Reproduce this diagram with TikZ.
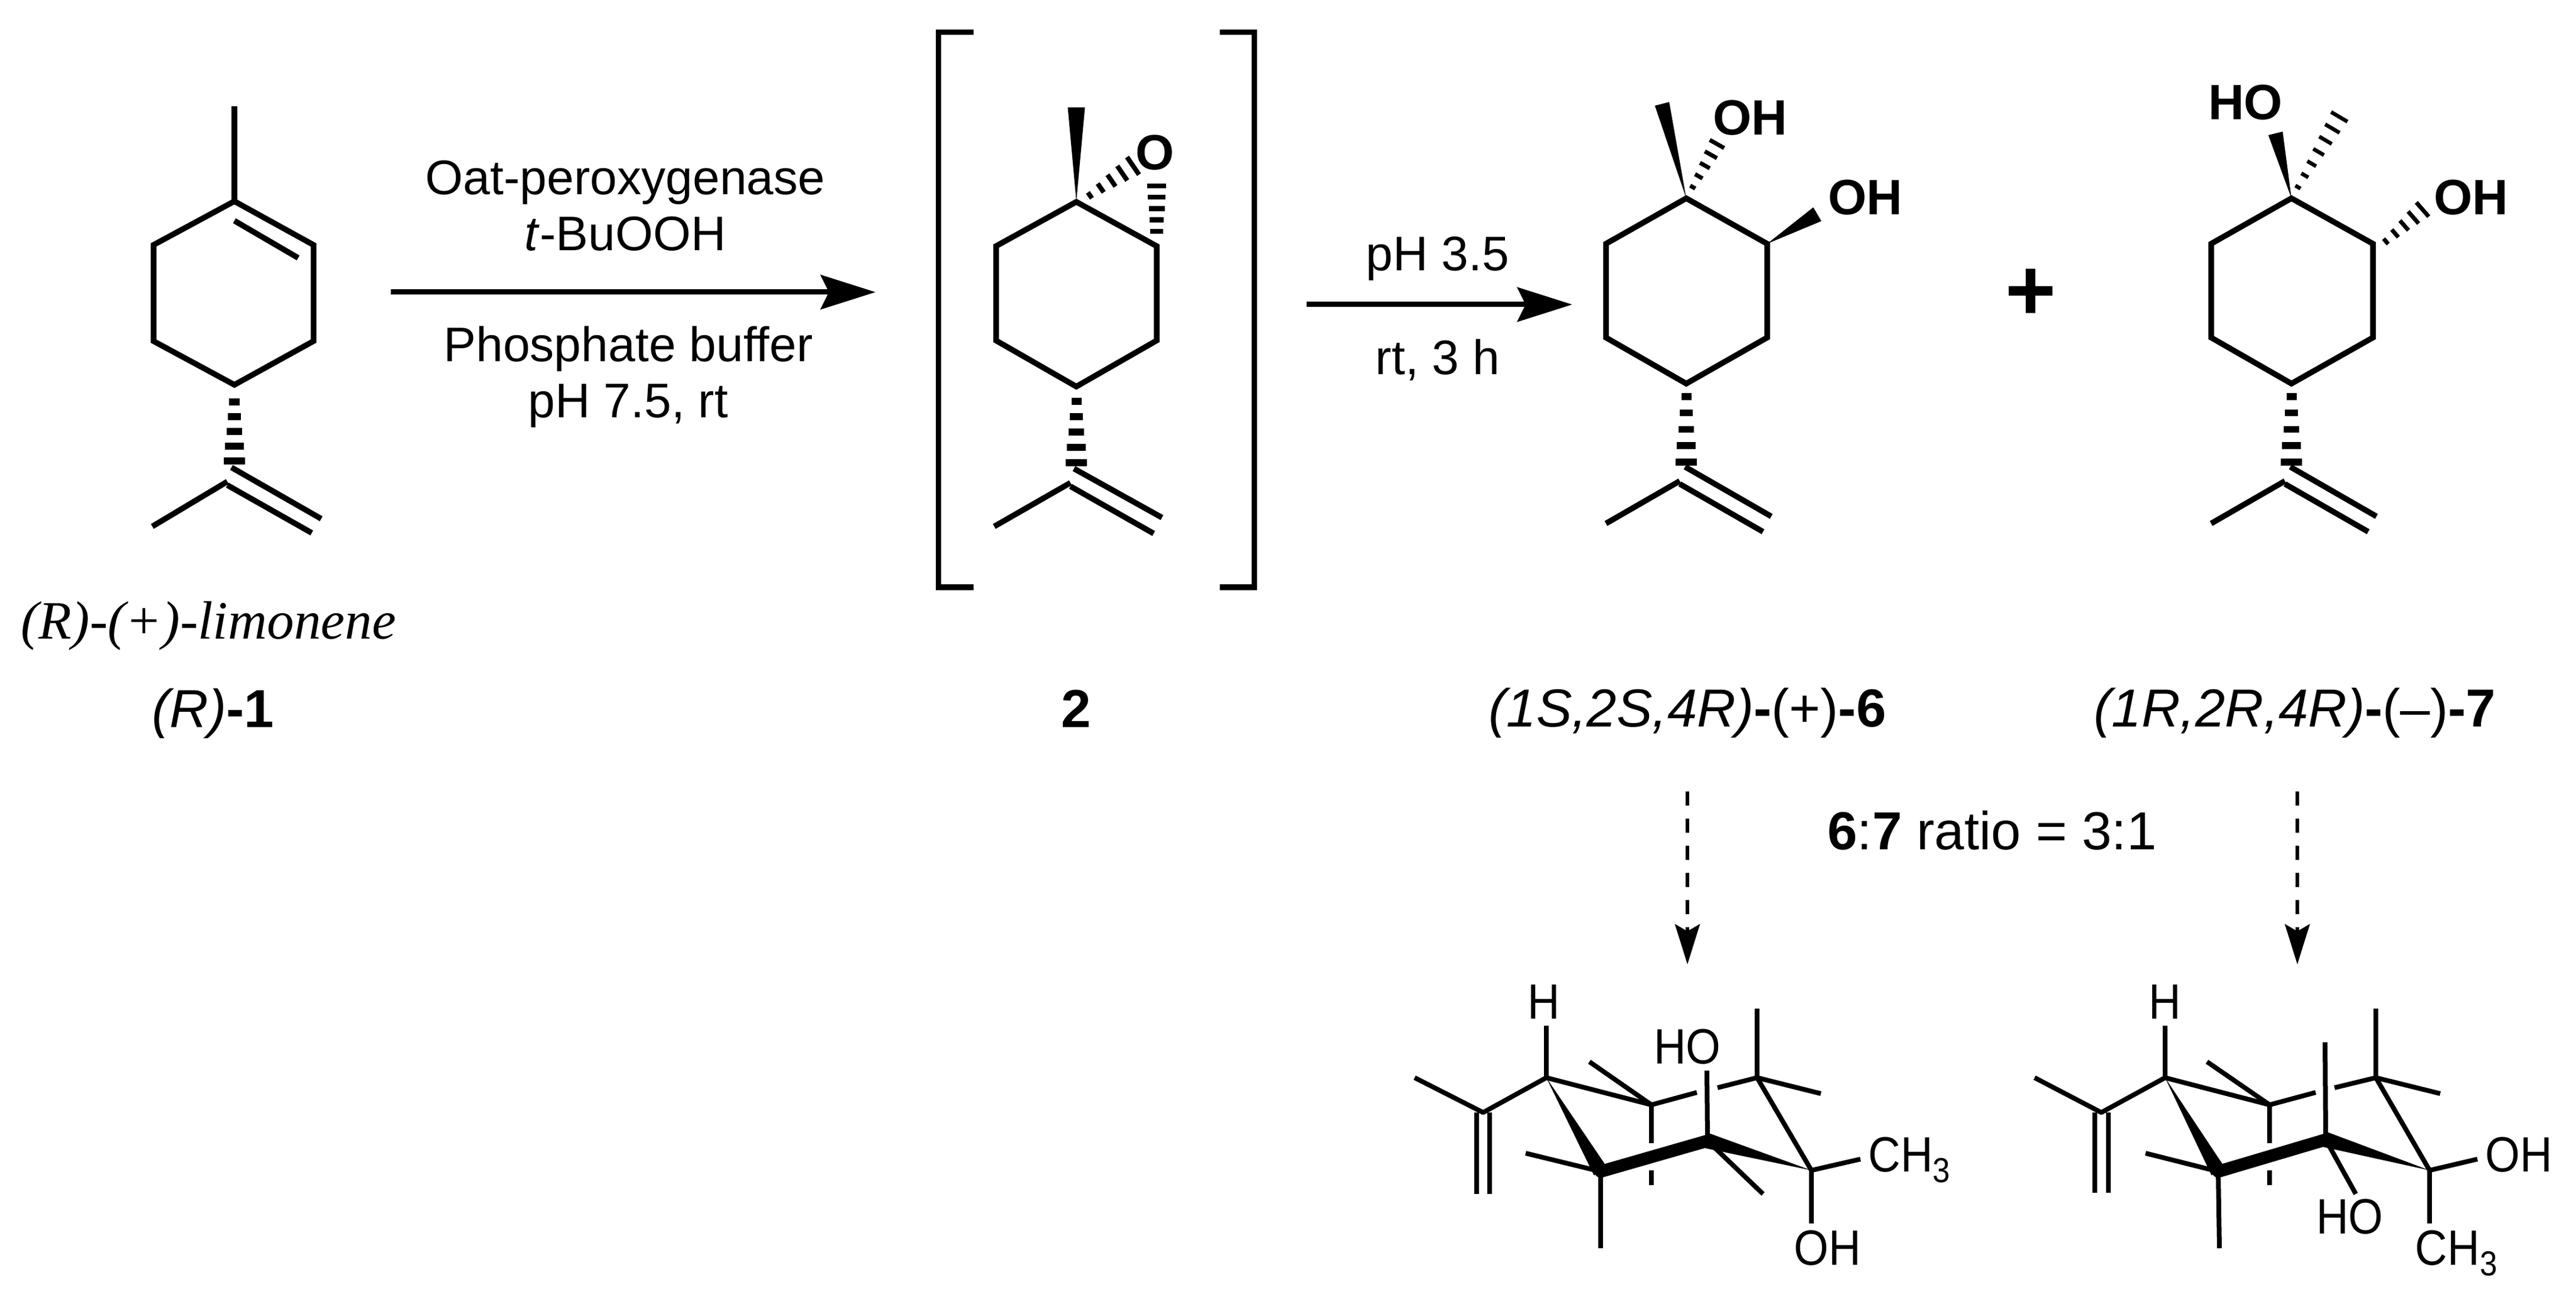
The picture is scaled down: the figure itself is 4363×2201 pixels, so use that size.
\documentclass[tikz,border=0pt]{standalone}
\usepackage{fontspec}
\usepackage{graphicx}
\setmainfont{Liberation Sans}
\newfontfamily\serifface{Liberation Serif}
\usetikzlibrary{calc,arrows.meta}
\tikzset{
  bond/.style={line width=0.095cm,line cap=butt,line join=miter},
  chairbond/.style={line width=0.08cm,line cap=butt,line join=round},
  frontbond/.style={line width=0.21cm,line cap=round},
  rxnarrow/.style={line width=0.09cm,-{Stealth[length=0.93cm,width=0.58cm,inset=0.14cm]}},
  dasharrow/.style={line width=0.06cm,dash pattern=on 0.24cm off 0.22cm,-{Stealth[length=0.68cm,width=0.42cm,inset=0.12cm]}},
  bracketline/.style={line width=0.09cm,line join=miter},
  lbl/.style={inner sep=0,anchor=base,font=\fontsize{23.4}{28}\selectfont},
  captxt/.style={inner sep=0,anchor=base,font=\fontsize{25.8}{30}\selectfont},
  atomb/.style={inner sep=0,anchor=base,font=\fontsize{23.9}{28}\selectfont\bfseries},
  chairatom/.style={inner sep=0,anchor=base,font=\fontsize{23.9}{28}\selectfont},
}
\newcommand\chl[1]{\scalebox{0.9}[1]{#1}}
\newcommand\wedgeb[3]{\fill ($(#2)!#3*0.005cm!90:(#1)$) -- (#1) -- ($(#2)!#3*0.005cm!-90:(#1)$) -- cycle;}
\newcommand\hashb[6]{%
  \foreach \kk in {1,...,#5}{%
    \pgfmathsetmacro\hT{(\kk-1)/(#5-1)}%
    \pgfmathsetmacro\hw{(#3+(#4-#3)*\hT)*0.005}%
    \coordinate (hc) at ($(#1)!\hT!(#2)$);
    \draw[line width=#6] ($(hc)+($(#1)!\hw cm!90:(#2)$)-(#1)$) -- ($(hc)+($(#1)!\hw cm!-90:(#2)$)-(#1)$);
  }}
\newcommand\stemhash[2]{\hashb{#1}{#2}{17}{36}{5}{0.115cm}}
\begin{document}
\begin{tikzpicture}[x=0.01cm,y=-0.01cm]
\useasboundingbox (0,0) rectangle (4363,2201);

% ---- molecule 1
\coordinate (aMe) at (397,180);
\coordinate (a1) at (397,341);
\coordinate (a2) at (531,415);
\coordinate (a3) at (531,578);
\coordinate (a4) at (397,652);
\coordinate (a5) at (260,578);
\coordinate (a6) at (260,415);
\coordinate (aIn1) at (397,374);
\coordinate (aIn2) at (505,437);
\coordinate (aS1) at (397,681);
\coordinate (aS2) at (397,781);
\coordinate (aC) at (385,816);
\coordinate (aM) at (258,892);
\coordinate (aD1) at (392,792);
\coordinate (aD2) at (544,879);
\coordinate (aD3) at (385,822);
\coordinate (aD4) at (528,903);
\draw[bond] (a1)--(a2)--(a3)--(a4)--(a5)--(a6)--cycle;
\draw[bond] (a1)--(aMe);
\draw[bond] (aIn1)--(aIn2);
\stemhash{aS1}{aS2}
\draw[bond] (aM)--(aC);
\draw[bond] (aD1)--(aD2);
\draw[bond] (aD3)--(aD4);
\node[inner sep=0,anchor=base,font=\fontsize{26}{30}\selectfont\serifface\itshape] (tLimo) at (353,1083) {(R)-(+)-limonene};
\node[captxt] (tR1) at (361,1232) {\textit{(R)}\textbf{-1}};

% ---- arrow 1
\coordinate (r1s) at (662,495);
\coordinate (r1e) at (1483,495);
\draw[rxnarrow] (r1s)--(r1e);
\node[lbl] (tOat) at (1059,330) {Oat-peroxygenase};
\node[lbl] (tBu) at (1059,425) {\textit{t}-BuOOH};
\node[lbl] (tPb) at (1064,613) {Phosphate buffer};
\node[lbl] (tPh) at (1064,708) {pH 7.5, rt};

% ---- molecule 2
\coordinate (bTL) at (1649,55);
\coordinate (bL1) at (1589,55);
\coordinate (bL2) at (1589,995);
\coordinate (bBL) at (1649,995);
\coordinate (bTR) at (2066,55);
\coordinate (bR1) at (2124,55);
\coordinate (bR2) at (2124,995);
\coordinate (bBR) at (2066,995);
\draw[bracketline] (bTL)--(bL1)--(bL2)--(bBL);
\draw[bracketline] (bTR)--(bR1)--(bR2)--(bBR);
\coordinate (cMe) at (1823,182);
\coordinate (c1) at (1823,342);
\coordinate (c2) at (1959,417);
\coordinate (c3) at (1959,577);
\coordinate (c4) at (1823,655);
\coordinate (c5) at (1687,577);
\coordinate (c6) at (1687,417);
\coordinate (cH1) at (1846,331);
\coordinate (cH2) at (1919,281);
\coordinate (cH3) at (1959,392);
\coordinate (cH4) at (1959,315);
\coordinate (cS1) at (1823,680);
\coordinate (cS2) at (1823,784);
\coordinate (cC) at (1813,818);
\coordinate (cM) at (1684,892);
\coordinate (cD1) at (1819,794);
\coordinate (cD2) at (1968,877);
\coordinate (cD3) at (1813,824);
\coordinate (cD4) at (1954,904);
\draw[bond] (c1)--(c2)--(c3)--(c4)--(c5)--(c6)--cycle;
\wedgeb{c1}{cMe}{29}
\hashb{cH1}{cH2}{12}{36}{5}{0.08cm}
\hashb{cH3}{cH4}{22}{32}{5}{0.085cm}
\stemhash{cS1}{cS2}
\draw[bond] (cM)--(cC);
\draw[bond] (cD1)--(cD2);
\draw[bond] (cD3)--(cD4);
\node[atomb] (tO) at (1956,288) {O};
\node[captxt] (t2) at (1823,1232) {\textbf{2}};

% ---- arrow 2
\coordinate (r2s) at (2213,516);
\coordinate (r2e) at (2663,516);
\draw[rxnarrow] (r2s)--(r2e);
\node[lbl] (tPh2) at (2435,459) {pH 3.5};
\node[lbl] (tRt) at (2435,635) {rt, 3 h};

% ---- molecule 6
\coordinate (d1) at (2856,336);
\coordinate (d2) at (2993,413);
\coordinate (d3) at (2993,572);
\coordinate (d4) at (2856,650);
\coordinate (d5) at (2720,572);
\coordinate (d6) at (2720,413);
\coordinate (dMe) at (2815,176);
\coordinate (dH1) at (2867,317);
\coordinate (dH2) at (2908,244);
\coordinate (dW) at (3078,363);
\coordinate (dS1) at (2856,672);
\coordinate (dS2) at (2856,783);
\coordinate (dC) at (2845,815);
\coordinate (dM) at (2720,887);
\coordinate (dD1) at (2854,791);
\coordinate (dD2) at (3000,875);
\coordinate (dD3) at (2845,820);
\coordinate (dD4) at (2986,901);
\draw[bond] (d1)--(d2)--(d3)--(d4)--(d5)--(d6)--cycle;
\wedgeb{d1}{dMe}{25}
\hashb{dH1}{dH2}{10}{28}{5}{0.07cm}
\wedgeb{d2}{dW}{27}
\stemhash{dS1}{dS2}
\draw[bond] (dM)--(dC);
\draw[bond] (dD1)--(dD2);
\draw[bond] (dD3)--(dD4);
\node[atomb] (tOH1) at (2964,229) {OH};
\node[atomb] (tOH2) at (3159,364) {OH};
\node[captxt] (t6) at (2858,1231) {\textit{(1S,2S,4R)}\textbf{-}(+)\textbf{-6}};

% ---- plus
\node[inner sep=0,font=\fontsize{42}{46}\selectfont\bfseries] (tPlus) at (3440,499) {+};

% ---- molecule 7
\coordinate (e1) at (3881,336);
\coordinate (e2) at (4019,413);
\coordinate (e3) at (4019,572);
\coordinate (e4) at (3881,650);
\coordinate (e5) at (3745,572);
\coordinate (e6) at (3745,413);
\coordinate (eW) at (3854,226);
\coordinate (eH1) at (3892,317);
\coordinate (eH2) at (3962,198);
\coordinate (eH3) at (4041,409);
\coordinate (eH4) at (4103,355);
\coordinate (eS1) at (3881,672);
\coordinate (eS2) at (3881,783);
\coordinate (eC) at (3870,815);
\coordinate (eM) at (3745,887);
\coordinate (eD1) at (3879,791);
\coordinate (eD2) at (4025,875);
\coordinate (eD3) at (3870,820);
\coordinate (eD4) at (4011,901);
\draw[bond] (e1)--(e2)--(e3)--(e4)--(e5)--(e6)--cycle;
\wedgeb{e1}{eW}{25}
\hashb{eH1}{eH2}{10}{32}{7}{0.065cm}
\hashb{eH3}{eH4}{12}{32}{5}{0.07cm}
\stemhash{eS1}{eS2}
\draw[bond] (eM)--(eC);
\draw[bond] (eD1)--(eD2);
\draw[bond] (eD3)--(eD4);
\node[atomb] (tHO7) at (3803,203) {HO};
\node[atomb] (tOH7) at (4185,364) {OH};
\node[captxt] (t7) at (3887,1231) {\textit{(1R,2R,4R)}\textbf{-}(--)\textbf{-7}};

% ---- ratio and dashed arrows
\node[captxt] (tRatio) at (3374,1439) {\textbf{6}:\textbf{7} ratio = 3:1};
\coordinate (f1s) at (2858,1341);
\coordinate (f1e) at (2858,1634);
\coordinate (f2s) at (3891,1341);
\coordinate (f2e) at (3891,1634);
\draw[dasharrow] (f1s)--(f1e);
\draw[dasharrow] (f2s)--(f2e);

% ---- chair 6
\coordinate (gA) at (2619,1826);
\coordinate (gHb) at (2619,1738);
\coordinate (gI) at (2512,1885);
\coordinate (gMe) at (2396,1826);
\coordinate (gDa1) at (2501,1885);
\coordinate (gDa2) at (2501,2023);
\coordinate (gDb1) at (2523,1885);
\coordinate (gDb2) at (2523,2023);
\coordinate (gB) at (2797,1872);
\coordinate (gBx) at (2874,1851);
\coordinate (gCx) at (2909,1843);
\coordinate (gC) at (2976,1826);
\coordinate (gCu) at (2976,1709);
\coordinate (gCr) at (3084,1853);
\coordinate (gD) at (3068,1983);
\coordinate (gDd) at (3068,2073);
\coordinate (gDr) at (3151,1964);
\coordinate (gE) at (2892,1933);
\coordinate (gEu) at (2891,1814);
\coordinate (gEl) at (2986,2023);
\coordinate (gF) at (2711,1985);
\coordinate (gFl) at (2584,1954);
\coordinate (gFd) at (2711,2115);
\coordinate (gBu) at (2692,1799);
\coordinate (gBd) at (2797,1937);
\coordinate (gBe1) at (2797,1983);
\coordinate (gBe2) at (2797,2008);
\draw[chairbond] (gMe)--(gI)--(gA)--(gHb);
\draw[chairbond] (gDa1)--(gDa2);
\draw[chairbond] (gDb1)--(gDb2);
\draw[chairbond] (gA)--(gB)--(gBx);
\draw[chairbond] (gCx)--(gC)--(gCr);
\draw[chairbond] (gC)--(gCu);
\draw[chairbond] (gC)--(gD);
\draw[chairbond] (gD)--(gDd);
\draw[chairbond] (gD)--(gDr);
\draw[chairbond] (gE)--(gEu);
\draw[chairbond] (gE)--(gEl);
\draw[chairbond] (gF)--(gFl);
\draw[chairbond] (gF)--(gFd);
\draw[chairbond] (gB)--(gBu);
\draw[chairbond] (gB)--(gBd);
\draw[chairbond] (gBe1)--(gBe2);
\wedgeb{gA}{gF}{26}
\draw[frontbond] (gF)--(gE);
\wedgeb{gD}{gE}{26}
\node[chairatom] (tH6) at (2615,1726) {\chl{H}};
\node[chairatom] (tHO6) at (2858,1802) {\chl{HO}};
\node[chairatom,anchor=base west] (tCH6) at (3164,1985) {\chl{CH\raisebox{-0.22em}{\scalebox{0.7}{3}}}};
\node[chairatom] (tOH6) at (3095,2143) {\chl{OH}};

% ---- chair 7
\coordinate (hA) at (3667,1826);
\coordinate (hHb) at (3667,1738);
\coordinate (hI) at (3559,1885);
\coordinate (hMe) at (3446,1826);
\coordinate (hDa1) at (3548,1885);
\coordinate (hDa2) at (3548,2021);
\coordinate (hDb1) at (3571,1885);
\coordinate (hDb2) at (3571,2021);
\coordinate (hB) at (3844,1872);
\coordinate (hBx) at (3922,1851);
\coordinate (hCx) at (3954,1843);
\coordinate (hC) at (4024,1826);
\coordinate (hCu) at (4024,1709);
\coordinate (hCr) at (4133,1853);
\coordinate (hD) at (4115,1983);
\coordinate (hDd) at (4115,2073);
\coordinate (hDr) at (4196,1964);
\coordinate (hE) at (3939,1931);
\coordinate (hEu) at (3938,1766);
\coordinate (hEl) at (3990,2023);
\coordinate (hF) at (3757,1985);
\coordinate (hFl) at (3634,1954);
\coordinate (hFd) at (3759,2115);
\coordinate (hBu) at (3738,1799);
\coordinate (hBd) at (3844,1937);
\coordinate (hBe1) at (3844,1983);
\coordinate (hBe2) at (3844,2008);
\draw[chairbond] (hMe)--(hI)--(hA)--(hHb);
\draw[chairbond] (hDa1)--(hDa2);
\draw[chairbond] (hDb1)--(hDb2);
\draw[chairbond] (hA)--(hB)--(hBx);
\draw[chairbond] (hCx)--(hC)--(hCr);
\draw[chairbond] (hC)--(hCu);
\draw[chairbond] (hC)--(hD);
\draw[chairbond] (hD)--(hDd);
\draw[chairbond] (hD)--(hDr);
\draw[chairbond] (hE)--(hEu);
\draw[chairbond] (hE)--(hEl);
\draw[chairbond] (hF)--(hFl);
\draw[chairbond] (hF)--(hFd);
\draw[chairbond] (hB)--(hBu);
\draw[chairbond] (hB)--(hBd);
\draw[chairbond] (hBe1)--(hBe2);
\wedgeb{hA}{hF}{26}
\draw[frontbond] (hF)--(hE);
\wedgeb{hD}{hE}{26}
\node[chairatom] (tH7) at (3667,1726) {\chl{H}};
\node[chairatom] (tOH7b) at (4266,1985) {\chl{OH}};
\node[chairatom] (tHO7b) at (3980,2090) {\chl{HO}};
\node[chairatom,anchor=base west] (tCH7) at (4090,2143) {\chl{CH\raisebox{-0.22em}{\scalebox{0.7}{3}}}};
\end{tikzpicture}
\end{document}
